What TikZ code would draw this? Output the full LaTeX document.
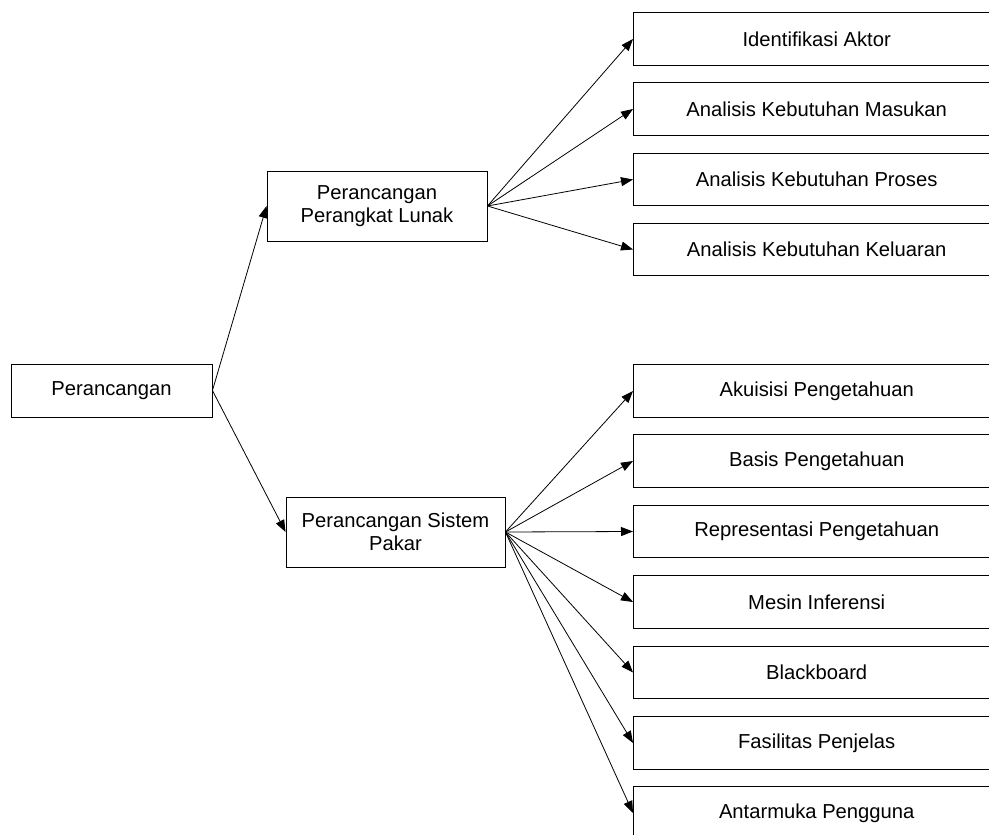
\documentclass[tikz,border=0pt]{standalone}
\usepackage{fontspec}
\setmainfont{Liberation Sans}
\usetikzlibrary{arrows.meta}
\begin{document}
\begin{tikzpicture}[x=1pt,y=-1pt,
  label text/.style={font=\fontsize{20.2}{23.5}\selectfont, align=center, inner sep=0pt},
  box/.style={label text, draw=black, line width=0.9pt},
  leaf/.style={label text, minimum width=367pt, minimum height=52pt, anchor=west},
  leaf edge/.style={draw=black, line width=0.9pt},
  link/.style={line width=0.8pt, -{Triangle[length=12pt,width=9pt]}}]
\useasboundingbox (0,0) rectangle (989,835);
\clip (0,0) rectangle (989,835);

% root and the two main branches
\node[box, minimum width=201pt, minimum height=53pt] (root) at (111.5,390.5) {Perancangan};
\node[box, minimum width=220pt, minimum height=70pt] (ppl) at (377,206) {Perancangan\\Perangkat Lunak};
\node[box, minimum width=219pt, minimum height=70pt] (psp) at (395.5,532) {Perancangan Sistem\\Pakar};

% software design leaves
\node[leaf] (a1) at (633,39) {Identifikasi Aktor};
\node[leaf] (a2) at (633,109) {Analisis Kebutuhan Masukan};
\node[leaf] (a3) at (633,179.5) {Analisis Kebutuhan Proses};
\node[leaf] (a4) at (633,249.5) {Analisis Kebutuhan Keluaran};

% expert system design leaves
\node[leaf] (b1) at (633,391) {Akuisisi Pengetahuan};
\node[leaf] (b2) at (633,461) {Basis Pengetahuan};
\node[leaf] (b3) at (633,531.5) {Representasi Pengetahuan};
\node[leaf] (b4) at (633,602) {Mesin Inferensi};
\node[leaf] (b5) at (633,672.5) {Blackboard};
\node[leaf] (b6) at (633,743) {Fasilitas Penjelas};
\node[leaf] (b7) at (633,813) {Antarmuka Pengguna};

% leaf frames run on past the right margin
\foreach \n in {a1,a2,a3,a4,b1,b2,b3,b4,b5,b6,b7}
  \draw[leaf edge] ([xshift=30pt]\n.north east) -- (\n.north west)
    -- (\n.south west) -- ([xshift=30pt]\n.south east);

% connectors
\draw[link] (root.east) -- (ppl.west);
\draw[link] (root.east) -- (psp.west);
\foreach \n in {a1,a2,a3,a4} \draw[link] (ppl.east) -- (\n.west);
\foreach \n in {b1,b2,b3,b4,b5,b6,b7} \draw[link] (psp.east) -- (\n.west);
\end{tikzpicture}
\end{document}
